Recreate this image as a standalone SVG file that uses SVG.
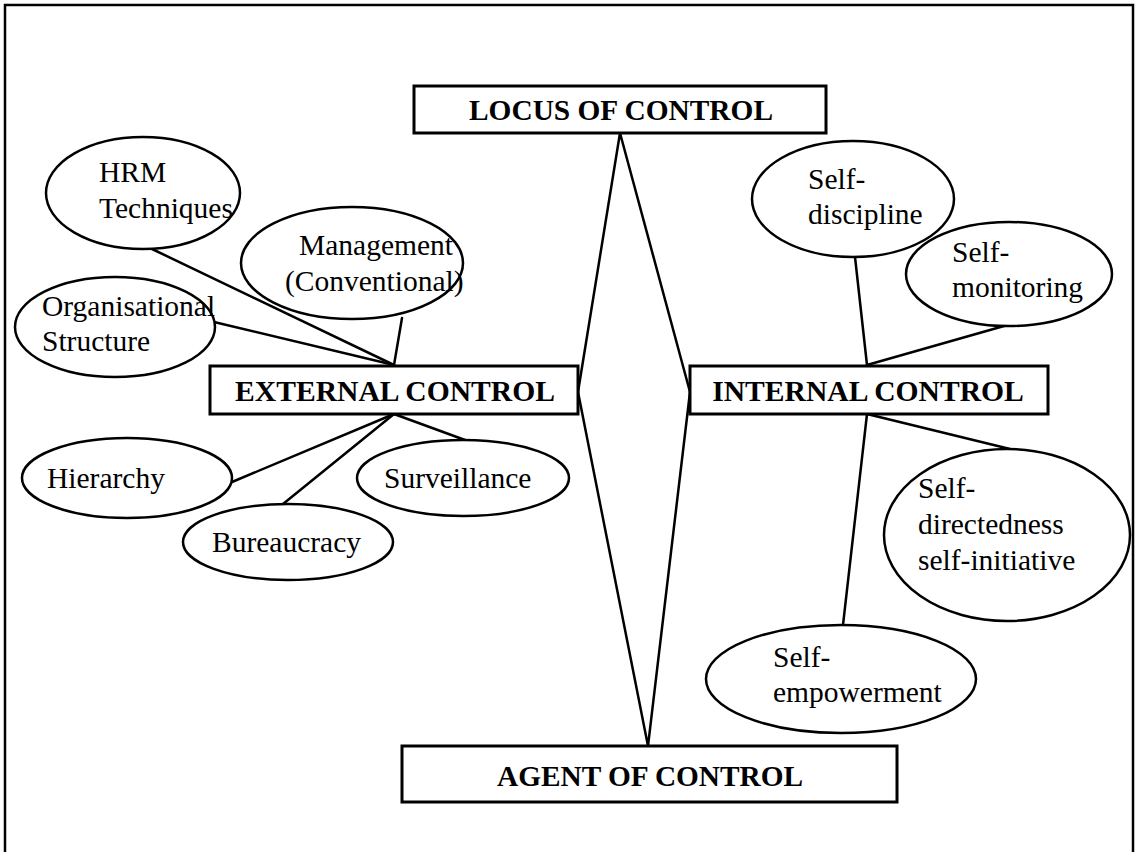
<svg xmlns="http://www.w3.org/2000/svg" width="1136" height="852" viewBox="0 0 1136 852">
  <style>
    .frame { fill: none; stroke: #000; stroke-width: 2.5; }
    .box { fill: #fff; stroke: #000; stroke-width: 3; }
    .oval { fill: #fff; stroke: #000; stroke-width: 2.5; }
    .link { fill: none; stroke: #000; stroke-width: 2.5; stroke-linecap: round; }
    .head { font-family: "Liberation Serif", "Times New Roman", serif; font-weight: bold; font-size: 29.6px; fill: #000; text-anchor: middle; }
    .lbl { font-family: "Liberation Serif", "Times New Roman", serif; font-size: 29.5px; fill: #000; }
  </style>
  <rect width="1136" height="852" fill="#fff"/>
  <rect class="frame" x="5" y="5" width="1128" height="860"/>

  <!-- connectors -->
  <g id="connectors">
    <!-- diamond linking locus and agent through the two control types -->
    <polyline class="link" points="620,133 578,392 648,746 690,392 620,133"/>
    <!-- external control branches -->
    <line class="link" x1="152" y1="249" x2="394" y2="365"/>
    <line class="link" x1="214" y1="322" x2="394" y2="365"/>
    <line class="link" x1="402" y1="318" x2="394" y2="365"/>
    <line class="link" x1="394" y1="414" x2="232" y2="482"/>
    <line class="link" x1="394" y1="414" x2="283" y2="504"/>
    <line class="link" x1="394" y1="414" x2="465" y2="440"/>
    <!-- internal control branches -->
    <line class="link" x1="855" y1="257" x2="867" y2="365"/>
    <line class="link" x1="1004" y1="326" x2="867" y2="365"/>
    <line class="link" x1="867" y1="414" x2="1010" y2="449"/>
    <line class="link" x1="867" y1="414" x2="843" y2="625"/>
  </g>

  <g id="locus">
    <rect class="box" x="414" y="86" width="412" height="47"/>
    <text class="head" x="621" y="120" textLength="304" lengthAdjust="spacingAndGlyphs">LOCUS OF CONTROL</text>
  </g>

  <g id="external">
    <rect class="box" x="210" y="366" width="368" height="48"/>
    <text class="head" x="395" y="401">EXTERNAL CONTROL</text>
  </g>

  <g id="internal">
    <rect class="box" x="690" y="366" width="358" height="48"/>
    <text class="head" x="868" y="401">INTERNAL CONTROL</text>
  </g>

  <g id="agent">
    <rect class="box" x="402" y="746" width="495" height="56"/>
    <text class="head" x="650" y="786" textLength="306" lengthAdjust="spacingAndGlyphs">AGENT OF CONTROL</text>
  </g>

  <g id="hrm">
    <ellipse class="oval" cx="143" cy="193" rx="97" ry="56"/>
    <text class="lbl" x="99" y="182">HRM</text>
    <text class="lbl" x="99" y="218">Techniques</text>
  </g>

  <g id="management">
    <ellipse class="oval" cx="352" cy="263" rx="111" ry="56"/>
    <text class="lbl" x="299" y="255">Management</text>
    <text class="lbl" x="285" y="291">(Conventional)</text>
  </g>

  <g id="organisational">
    <ellipse class="oval" cx="115" cy="327" rx="100" ry="50"/>
    <text class="lbl" x="42" y="316">Organisational</text>
    <text class="lbl" x="42" y="351">Structure</text>
  </g>

  <g id="hierarchy">
    <ellipse class="oval" cx="127" cy="478" rx="105" ry="40"/>
    <text class="lbl" x="47" y="488">Hierarchy</text>
  </g>

  <g id="bureaucracy">
    <ellipse class="oval" cx="288" cy="542" rx="105" ry="38"/>
    <text class="lbl" x="212" y="552">Bureaucracy</text>
  </g>

  <g id="surveillance">
    <ellipse class="oval" cx="463" cy="478" rx="106" ry="38"/>
    <text class="lbl" x="384" y="488">Surveillance</text>
  </g>

  <g id="self-discipline">
    <ellipse class="oval" cx="853" cy="199" rx="101" ry="58"/>
    <text class="lbl" x="808" y="189">Self-</text>
    <text class="lbl" x="808" y="224">discipline</text>
  </g>

  <g id="self-monitoring">
    <ellipse class="oval" cx="1009" cy="274" rx="103" ry="52"/>
    <text class="lbl" x="952" y="262">Self-</text>
    <text class="lbl" x="952" y="297">monitoring</text>
  </g>

  <g id="self-directedness">
    <ellipse class="oval" cx="1007" cy="535" rx="123" ry="86"/>
    <text class="lbl" x="918" y="498">Self-</text>
    <text class="lbl" x="918" y="534">directedness</text>
    <text class="lbl" x="918" y="570">self-initiative</text>
  </g>

  <g id="self-empowerment">
    <ellipse class="oval" cx="841" cy="679" rx="135" ry="54"/>
    <text class="lbl" x="773" y="667">Self-</text>
    <text class="lbl" x="773" y="702">empowerment</text>
  </g>
</svg>
